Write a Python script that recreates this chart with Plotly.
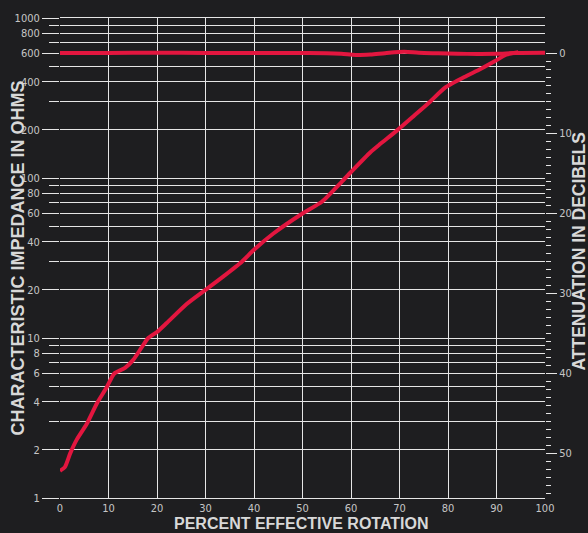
import math
import plotly.graph_objects as go

# ---- data ----
rotation = [0, 1, 2.1, 3.4, 5.5, 7.6, 9.6, 11.2, 13.4, 15.1, 16.8, 18.2, 20, 22, 26,
            30, 33.7, 37.5, 40, 44, 50, 54, 58, 60, 64, 66, 69.4, 73, 76.3, 79.4,
            83.8, 86.6, 89.7, 92, 94.5]
impedance = [1.48, 1.56, 1.9, 2.3, 2.9, 3.9, 4.9, 6.0, 6.5, 7.3, 8.7, 10, 10.9, 12.4, 16.2,
             20, 24.3, 30, 35.6, 45, 60, 71, 94, 109, 145, 163, 197, 245, 300, 367,
             434, 478, 538, 590, 612]

flat_rotation = [0, 10, 20, 30, 40, 50, 55, 58, 61, 64, 67, 71, 74, 78, 82, 86, 90, 94, 100]
flat_impedance = [605, 605, 606, 605, 604, 604, 603, 598, 588, 592, 603, 615, 606, 602, 598, 596, 597, 604, 606]

x_ticks = [0, 10, 20, 30, 40, 50, 60, 70, 80, 90, 100]
y_major = [1, 2, 4, 6, 8, 10, 20, 40, 60, 80, 100, 200, 400, 600, 800, 1000]
y_minor = [3, 5, 7, 9, 30, 50, 70, 90, 300, 500, 700, 900]
db_major = [0, 10, 20, 30, 40, 50]
db_minor = list(range(0, 56))

REF_OHMS = 600.0
Z_MIN, Z_MAX = 1.0, 1000.0
db_top = 20 * math.log10(REF_OHMS / Z_MAX)
db_bottom = 20 * math.log10(REF_OHMS / Z_MIN)

BG = "#1e1e20"
GRID = "#e6e6e6"
RED = "#e3163f"
LABEL = "#c6c6c6"
TITLE = "#d8d8d8"
NUMFONT = "Liberation Sans Narrow, Arial Narrow, DejaVu Sans Condensed, sans-serif"
TFONT = "Liberation Sans, Arial, sans-serif"

fig = go.Figure()
fig.add_trace(go.Scatter(x=flat_rotation, y=flat_impedance, mode="lines",
                         line=dict(color=RED, width=4, shape="spline", smoothing=0.8),
                         showlegend=False, hoverinfo="skip"))
fig.add_trace(go.Scatter(x=rotation, y=impedance, mode="lines",
                         line=dict(color=RED, width=4, shape="spline", smoothing=0.6),
                         showlegend=False, hoverinfo="skip"))
fig.add_trace(go.Scatter(x=[None], y=[None], yaxis="y2", showlegend=False, hoverinfo="skip"))

fig.update_layout(
    width=588, height=533,
    margin=dict(l=60, r=43, t=15, b=35),
    paper_bgcolor=BG, plot_bgcolor=BG,
    xaxis=dict(range=[0, 100], tickvals=x_ticks, showgrid=True, gridcolor=GRID, gridwidth=1.2,
               zeroline=False, showline=True, linecolor=GRID, linewidth=1.2, mirror=True,
               ticks="", tickfont=dict(family=NUMFONT, size=11, color=LABEL)),
    yaxis=dict(type="log", range=[0, 3], tickvals=y_major, ticktext=[str(v) for v in y_major],
               showgrid=True, gridcolor=GRID, gridwidth=1.2, zeroline=False,
               showline=False, ticks="outside", ticklen=17, tickwidth=1.2, tickcolor=GRID,
               tickfont=dict(family=NUMFONT, size=11, color=LABEL),
               minor=dict(tickmode="array", tickvals=y_minor, ticks="outside", ticklen=10,
                          tickwidth=1.2, tickcolor=GRID, showgrid=True, gridcolor=GRID,
                          gridwidth=1.2)),
    yaxis2=dict(overlaying="y", side="right", range=[db_bottom, db_top],
                tickvals=db_major, showgrid=False, zeroline=False, showline=False,
                ticks="outside", ticklen=11, tickwidth=1.2, tickcolor=GRID,
                tickfont=dict(family=NUMFONT, size=11, color=LABEL),
                minor=dict(tickmode="array", tickvals=db_minor, ticks="outside", ticklen=5,
                           tickwidth=1, tickcolor=GRID, showgrid=False)),
    annotations=[
        dict(text="<b>CHARACTERISTIC IMPEDANCE IN OHMS</b>", xref="paper", yref="paper",
             x=(18 - 60) / 485, y=(498 - 257) / 483, textangle=-90, showarrow=False,
             xanchor="center", yanchor="middle",
             font=dict(family=TFONT, size=18, color=TITLE)),
        dict(text="<b>ATTENUATION IN DECIBELS</b>", xref="paper", yref="paper",
             x=(579 - 60) / 485, y=(498 - 250) / 483, textangle=-90, showarrow=False,
             xanchor="center", yanchor="middle",
             font=dict(family=TFONT, size=17.5, color=TITLE)),
        dict(text="<b>PERCENT EFFECTIVE ROTATION</b>", xref="paper", yref="paper",
             x=(301 - 60) / 485, y=(498 - 524) / 483, showarrow=False,
             xanchor="center", yanchor="middle",
             font=dict(family=TFONT, size=16, color=TITLE)),
    ],
)

fig.write_html(
    "out.html",
    config={"displayModeBar": False},
    post_script="document.body.style.margin='0';document.body.style.background='" + BG + "';",
)
